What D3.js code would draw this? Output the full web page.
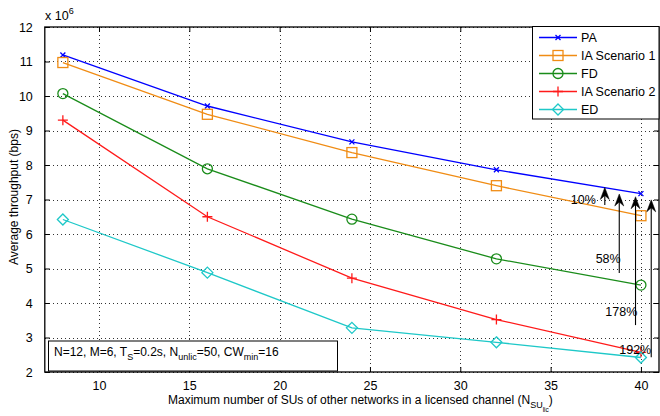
<!DOCTYPE html>
<html><head><meta charset="utf-8">
<script src="https://cdn.jsdelivr.net/npm/d3@7/dist/d3.min.js"></script>
<style>
html,body{margin:0;padding:0;background:#fff;}
text{font-family:"Liberation Sans",Arial,Helvetica,sans-serif;}
</style></head>
<body>
<svg id="c" width="660" height="416"></svg>
<script>
const xValues = [8, 16, 24, 32, 40];
const seriesNames = ["PA", "IA Scenario 1", "FD", "IA Scenario 2", "ED"];
const paValues  = [11.19, 9.71, 8.67, 7.86, 7.17];
const ia1Values = [10.97, 9.47, 8.36, 7.40, 6.53];
const fdValues  = [10.07, 7.89, 6.43, 5.28, 4.52];
const ia2Values = [9.30, 6.50, 4.72, 3.52, 2.57];
const edValues  = [6.42, 4.88, 3.28, 2.86, 2.42];
const xTicks = [10, 15, 20, 25, 30, 35, 40];
const yTicks = [2, 3, 4, 5, 6, 7, 8, 9, 10, 11, 12];
// annotation arrows (data units): x, yFrom, yTo
const arrowX    = [38.0, 38.8, 39.7, 40.57];
const arrowFrom = [6.84, 4.87, 3.36, 2.43];
const arrowTo   = [7.35, 7.16, 7.08, 6.99];
const gainLabels = ["10%", "58%", "178%", "192%"];
const labelX = [37.5, 38.88, 39.8, 40.57];
const labelY = [7.0, 5.28, 3.74, 2.66];

const colors = ["#0000ff", "#f08c14", "#1a8c1a", "#ff1a1a", "#1ec8c8"];
const symbols = ["x", "square", "circle", "plus", "diamond"];
const allValues = [paValues, ia1Values, fdValues, ia2Values, edValues];

const svg = d3.select("#c");
const L = 44.8, R = 659, T = 27, B = 372;
const x = d3.scaleLinear().domain([7, 41]).range([L, R]);
const y = d3.scaleLinear().domain([2, 12]).range([B, T]);

// grid
const grid = svg.append("g").attr("stroke", "#333").attr("stroke-width", 1)
  .attr("stroke-dasharray", "1,3").attr("shape-rendering", "crispEdges");
xTicks.forEach(t => grid.append("line").attr("x1", Math.round(x(t))+0.5).attr("x2", Math.round(x(t))+0.5).attr("y1", T).attr("y2", B));
yTicks.forEach(t => grid.append("line").attr("y1", Math.round(y(t))+0.5).attr("y2", Math.round(y(t))+0.5).attr("x1", L).attr("x2", R));

// axes
const tickLen = 5;
const fmt = d3.format("d");
const gB = svg.append("g").attr("transform", `translate(0,${B})`)
  .call(d3.axisBottom(x).tickValues(xTicks).tickFormat(fmt).tickSizeInner(-tickLen).tickSizeOuter(0).tickPadding(9));
const gT = svg.append("g").attr("transform", `translate(0,${T})`)
  .call(d3.axisTop(x).tickValues(xTicks).tickFormat("").tickSizeInner(-tickLen).tickSizeOuter(0));
const gL = svg.append("g").attr("transform", `translate(${L},0)`)
  .call(d3.axisLeft(y).tickValues(yTicks).tickFormat(fmt).tickSizeInner(-tickLen).tickSizeOuter(0).tickPadding(12));
const gR = svg.append("g").attr("transform", `translate(${R},0)`)
  .call(d3.axisRight(y).tickValues(yTicks).tickFormat("").tickSizeInner(-tickLen).tickSizeOuter(0));
[gB, gT, gL, gR].forEach(g => {
  g.select(".domain").remove();
  g.selectAll("line").attr("stroke", "#000");
  g.selectAll("text").attr("font-size", 12.5).attr("fill", "#000").attr("font-family", "Liberation Sans, Arial, sans-serif");
});
svg.append("rect").attr("x", L).attr("y", T).attr("width", R - L).attr("height", B - T)
  .attr("fill", "none").attr("stroke", "#000").attr("stroke-width", 1.3);

// scale factor
const sf = svg.append("text").attr("x", 45).attr("y", 20).attr("font-size", 12.5);
sf.append("tspan").text("x 10");
sf.append("tspan").attr("dy", -6).attr("font-size", 9).text("6");

// marker drawing
function marker(g, type, cx, cy, color) {
  if (type === "x") {
    const s = 2.5;
    g.append("path").attr("d", `M${cx-s},${cy-s}L${cx+s},${cy+s}M${cx-s},${cy+s}L${cx+s},${cy-s}`)
      .attr("stroke", color).attr("stroke-width", 1.3).attr("fill", "none");
  } else if (type === "square") {
    const s = 5;
    g.append("rect").attr("x", cx-s).attr("y", cy-s).attr("width", 2*s).attr("height", 2*s)
      .attr("stroke", color).attr("stroke-width", 1.3).attr("fill", "none");
  } else if (type === "circle") {
    g.append("circle").attr("cx", cx).attr("cy", cy).attr("r", 5)
      .attr("stroke", color).attr("stroke-width", 1.3).attr("fill", "none");
  } else if (type === "plus") {
    const s = 5;
    g.append("path").attr("d", `M${cx-s},${cy}L${cx+s},${cy}M${cx},${cy-s}L${cx},${cy+s}`)
      .attr("stroke", color).attr("stroke-width", 1.3).attr("fill", "none");
  } else if (type === "diamond") {
    const s = 5.5;
    g.append("path").attr("d", `M${cx},${cy-s}L${cx+s},${cy}L${cx},${cy+s}L${cx-s},${cy}Z`)
      .attr("stroke", color).attr("stroke-width", 1.3).attr("fill", "none");
  }
}

// series
const line = d3.line().x((d, i) => x(xValues[i])).y(d => y(d));
const sg = svg.append("g");
allValues.forEach((vals, k) => {
  sg.append("path").datum(vals).attr("d", line).attr("fill", "none")
    .attr("stroke", colors[k]).attr("stroke-width", 1.3);
  vals.forEach((v, i) => marker(sg, symbols[k], x(xValues[i]), y(v), colors[k]));
});

// annotation arrows
const ag = svg.append("g");
arrowX.forEach((ax, i) => {
  const px = x(ax), y0 = y(arrowFrom[i]), y1 = y(arrowTo[i]);
  ag.append("line").attr("x1", px).attr("x2", px).attr("y1", y0).attr("y2", y1 + 6)
    .attr("stroke", "#000").attr("stroke-width", 1.1);
  ag.append("path").attr("d", `M${px},${y1}L${px-4.5},${y1+12}L${px},${y1+8}L${px+4.5},${y1+12}Z`)
    .attr("fill", "#000").attr("stroke", "#000").attr("stroke-width", 0.5);
});
gainLabels.forEach((t, i) => {
  ag.append("text").attr("x", x(labelX[i])).attr("y", y(labelY[i])).attr("dy", "0.35em")
    .attr("text-anchor", "end").attr("font-size", 12.5).text(t);
});

// legend
const lg = svg.append("g");
lg.append("rect").attr("x", 532.5).attr("y", 26.5).attr("width", 126.5).attr("height", 92.5)
  .attr("fill", "#fff").attr("stroke", "#000").attr("stroke-width", 1);
const legY = [37.5, 55.5, 73.5, 91.5, 109.5];
seriesNames.forEach((n, k) => {
  lg.append("line").attr("x1", 539).attr("x2", 577).attr("y1", legY[k]).attr("y2", legY[k])
    .attr("stroke", colors[k]).attr("stroke-width", 1.3);
  marker(lg, symbols[k], 558, legY[k], colors[k]);
  lg.append("text").attr("x", 581).attr("y", legY[k]).attr("dy", "0.36em").attr("font-size", 12.5).text(n);
});

// parameters box
const pb = svg.append("g");
pb.append("rect").attr("x", 48.5).attr("y", 341).attr("width", 289).attr("height", 30)
  .attr("fill", "#fff").attr("stroke", "#000").attr("stroke-width", 1);
const pt = pb.append("text").attr("x", 54).attr("y", 356).attr("font-size", 12);
pt.append("tspan").text("N=12, M=6, T");
pt.append("tspan").attr("dy", 4).attr("font-size", 9).text("S");
pt.append("tspan").attr("dy", -4).text("=0.2s, N");
pt.append("tspan").attr("dy", 4).attr("font-size", 9).text("unlic");
pt.append("tspan").attr("dy", -4).text("=50, CW");
pt.append("tspan").attr("dy", 4).attr("font-size", 9).text("min");
pt.append("tspan").attr("dy", -4).text("=16");

// axis labels
const xl = svg.append("text").attr("x", 168).attr("y", 404).attr("font-size", 12);
xl.append("tspan").text("Maximum number of SUs of other networks in a licensed channel (N");
xl.append("tspan").attr("dy", 4).attr("font-size", 9).text("SU");
xl.append("tspan").attr("dy", 4).attr("font-size", 6.5).text("lic");
xl.append("tspan").attr("dy", -8).text(")");

svg.append("text").attr("transform", "translate(18,197) rotate(-90)")
  .attr("text-anchor", "middle").attr("font-size", 12).text("Average throughput (bps)");
</script>
</body></html>
